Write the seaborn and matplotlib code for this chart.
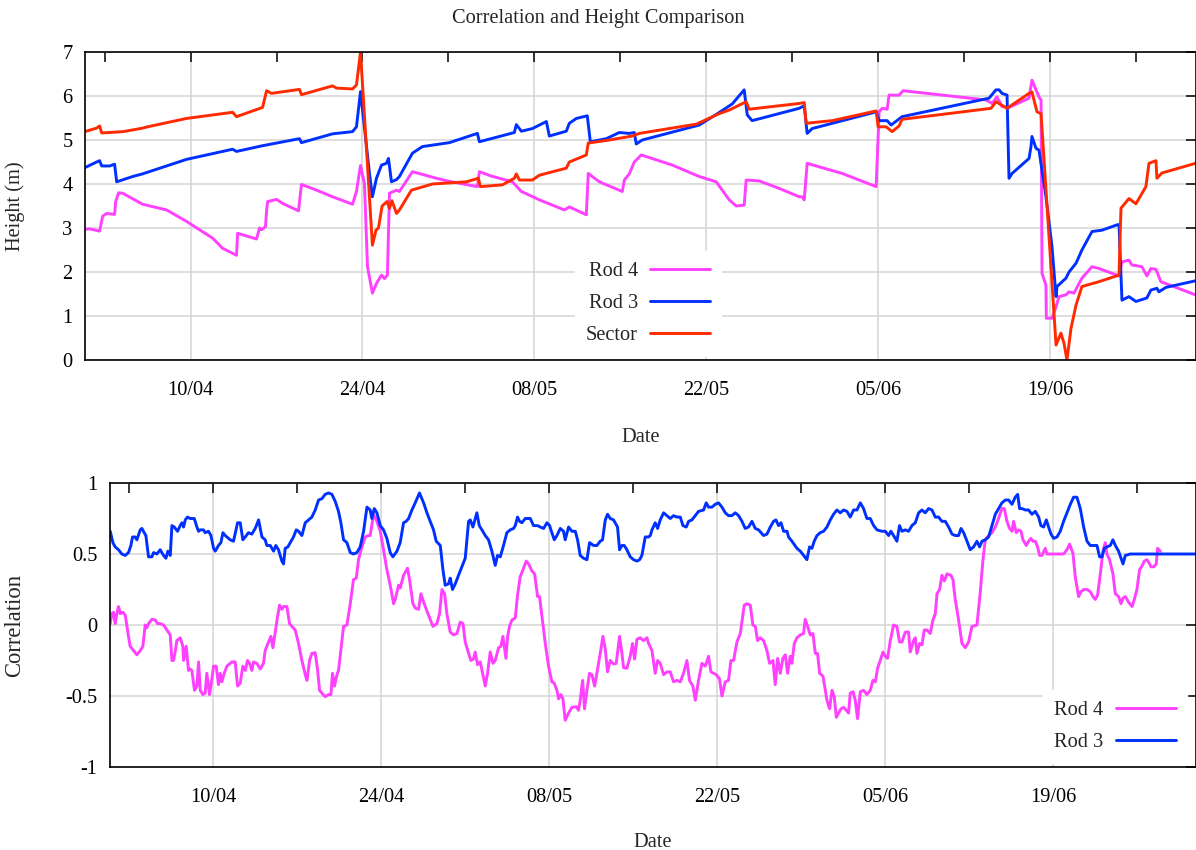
import numpy as np
import pandas as pd
import matplotlib
matplotlib.use("Agg")
import matplotlib.pyplot as plt
import matplotlib.dates as mdates
from matplotlib.ticker import FixedLocator, FixedFormatter
import seaborn as sns

# ---------------- data ----------------
START = pd.Timestamp("2013-04-01")  # day 0 of the series (days are offsets from it)
X_RANGE_DAYS = (0.40, 90.85)

SERIES_ORDER_TOP = ["Rod 4", "Rod 3", "Sector"]
SERIES_ORDER_BOTTOM = ["Rod 4", "Rod 3"]
COLORS = {"Rod 4": "#ff40ff", "Rod 3": "#0030ff", "Sector": "#ff2a00"}

major_tick_dates = ["2013-04-10", "2013-04-24", "2013-05-08", "2013-05-22", "2013-06-05", "2013-06-19"]
minor_tick_dates = ["2013-04-03", "2013-04-17", "2013-05-01", "2013-05-15", "2013-05-29", "2013-06-12", "2013-06-26"]
height_ticks = [0, 1, 2, 3, 4, 5, 6, 7]
corr_ticks = [-1, -0.5, 0, 0.5, 1]
corr_tick_labels = ["-1", "-0.5", "0", "0.5", "1"]

# Height (m) – Sector
sector_day = [0.37,1.35,1.59,1.76,3.5,5.09,5.5,8.67,12.42,12.74,14.86,15.19,15.59,17.87,18.03,20.56,20.88,22.19,22.51,22.84,
              23.81,24.1,24.3,24.6,25.0,25.2,25.4,25.77,26.01,26.99,28.70,31.46,32.44,32.60,34.39,35.37,35.53,35.78,36.84,37.41,
              39.60,39.85,41.23,41.39,43.10,44.98,45.55,50.19,52.06,52.87,54.25,54.50,58.57,58.98,59.14,61.26,64.84,65.00,65.65,66.14,
              66.71,66.95,74.20,74.60,75.50,77.29,77.53,77.94,78.27,79.49,79.89,80.14,80.38,80.71,81.12,81.60,82.99,84.62,84.78,85.43,
              86.00,86.81,87.06,87.63,87.71,88.11,90.85]
sector_val = [5.19,5.27,5.32,5.16,5.19,5.27,5.30,5.49,5.63,5.53,5.74,6.12,6.06,6.15,6.03,6.23,6.18,6.16,6.25,7.0,
              2.61,2.95,3.0,3.5,3.6,3.45,3.62,3.33,3.41,3.86,4.0,4.05,4.13,3.94,3.98,4.13,4.23,4.09,4.09,4.2,
              4.36,4.5,4.66,4.93,5.0,5.09,5.15,5.36,5.6,5.68,5.87,5.7,5.83,5.85,5.38,5.44,5.66,5.3,5.3,5.19,
              5.32,5.47,5.72,5.87,5.72,6.06,6.09,5.64,5.6,0.34,0.61,0.38,0.0,0.72,1.25,1.67,1.78,1.93,3.45,3.67,
              3.55,3.94,4.47,4.53,4.13,4.25,4.47]

# Height (m) – Rod 3
rod3_h_day = [0.37,1.35,1.59,1.76,2.41,2.81,2.98,4.28,5.09,8.67,12.42,12.74,14.86,17.87,18.03,20.56,22.19,22.51,22.84,23.57,
              23.81,24.14,24.55,24.95,25.12,25.36,25.77,26.01,27.07,27.88,30.08,32.36,32.52,35.37,35.53,35.94,36.84,37.98,38.22,39.60,
              39.85,40.42,41.31,41.56,42.86,43.92,44.73,45.14,45.30,45.79,50.43,51.81,53.12,54.09,54.34,54.74,58.57,58.98,59.22,59.63,
              64.84,65.08,65.73,66.06,66.95,74.03,74.60,74.85,75.09,75.50,75.66,75.91,77.29,77.45,77.53,77.86,78.10,78.67,79.16,79.49,
              79.57,80.30,80.55,81.12,81.60,82.42,83.23,84.45,84.62,84.86,85.43,86.00,86.89,87.22,87.71,87.87,88.44,90.85]
rod3_h_val = [4.37,4.50,4.53,4.41,4.41,4.45,4.05,4.17,4.23,4.56,4.79,4.74,4.87,5.03,4.94,5.14,5.19,5.30,6.10,4.24,
              3.71,4.13,4.43,4.47,4.58,4.05,4.10,4.17,4.70,4.85,4.94,5.15,4.96,5.17,5.35,5.20,5.26,5.42,5.09,5.20,
              5.38,5.49,5.55,4.96,5.03,5.17,5.15,5.17,4.91,5.00,5.34,5.58,5.82,6.14,5.57,5.44,5.72,5.78,5.15,5.26,
              5.64,5.44,5.44,5.34,5.53,5.95,6.14,6.14,6.06,6.02,4.13,4.24,4.58,4.85,5.08,4.81,4.77,3.71,2.58,1.44,
              1.67,1.86,2.00,2.20,2.50,2.92,2.95,3.07,3.08,1.36,1.44,1.33,1.41,1.59,1.63,1.55,1.65,1.80]

# Height (m) – Rod 4
rod4_h_day = [0.37,0.78,1.59,1.84,2.16,2.81,2.90,3.14,3.47,5.09,7.05,8.67,10.79,11.60,12.74,12.83,14.37,14.62,14.78,15.10,
              15.19,15.27,16.00,16.49,17.79,18.03,19.26,20.56,22.19,22.51,22.84,23.16,23.41,23.81,24.14,24.55,24.79,25.03,25.20,25.77,
              26.01,27.07,29.02,30.08,32.36,32.52,33.50,35.21,35.94,37.41,39.44,39.85,41.23,41.39,42.29,44.16,44.33,44.73,45.14,45.71,
              48.23,50.43,51.81,52.87,53.44,54.09,54.25,55.31,56.94,58.57,58.81,58.98,59.22,60.20,62.07,64.84,65.08,65.33,65.73,65.89,
              66.71,67.03,73.79,74.28,74.68,75.09,75.66,77.29,77.53,77.86,78.10,78.27,78.35,78.67,78.70,79.16,79.49,79.73,80.30,80.55,
              80.95,81.60,82.42,82.99,84.62,84.86,85.43,85.67,86.49,86.89,87.22,87.63,88.03,90.85]
rod4_h_val = [2.97,2.98,2.93,3.27,3.33,3.31,3.60,3.80,3.79,3.54,3.41,3.15,2.77,2.54,2.38,2.88,2.75,3.00,2.96,3.03,
              3.39,3.60,3.65,3.56,3.39,3.99,3.86,3.71,3.54,3.83,4.42,4.01,2.12,1.52,1.74,1.93,1.85,1.93,3.79,3.86,
              3.83,4.28,4.13,4.06,3.94,4.28,4.18,4.05,3.83,3.64,3.41,3.48,3.30,4.24,4.05,3.83,4.09,4.23,4.50,4.66,
              4.43,4.17,4.05,3.64,3.50,3.52,4.09,4.07,3.90,3.71,3.71,3.64,4.47,4.39,4.24,3.94,5.64,5.72,5.70,6.02,
              6.02,6.12,5.91,5.83,5.98,5.76,5.74,5.95,6.36,6.14,5.98,5.91,1.97,1.70,0.95,0.95,1.21,1.44,1.48,1.55,
              1.52,1.86,2.12,2.08,1.91,2.23,2.27,2.16,2.12,1.91,2.08,2.06,1.78,1.48]

# Correlation – Rod 3, (day, r)
rod3_corr = [
    (0.42,0.66),(0.64,0.58),(0.83,0.55),(1.11,0.53),(1.39,0.50),(1.67,0.49),(1.94,0.51),(2.14,0.56),(2.28,0.62),(2.50,0.62),
    (2.64,0.60),(2.92,0.67),(3.06,0.68),(3.25,0.65),(3.39,0.63),(3.61,0.48),(3.89,0.48),(4.03,0.51),(4.31,0.50),(4.58,0.53),
    (4.86,0.49),(5.06,0.47),(5.22,0.52),(5.42,0.49),(5.56,0.70),(5.75,0.69),(6.03,0.66),(6.25,0.70),(6.39,0.72),(6.53,0.69),
    (6.67,0.74),(6.86,0.76),(7.08,0.75),(7.42,0.75),(7.64,0.69),(7.78,0.66),(7.92,0.67),(8.19,0.67),(8.33,0.65),(8.61,0.66),
    (8.81,0.63),(9.03,0.54),(9.17,0.52),(9.44,0.56),(9.64,0.58),(9.81,0.65),(10.0,0.63),(10.42,0.60),(10.69,0.59),(11.03,0.72),
    (11.25,0.72),(11.47,0.60),(11.67,0.62),(11.94,0.65),(12.22,0.64),(12.5,0.68),(12.78,0.74),(13.06,0.62),(13.33,0.60),(13.47,0.56),
    (13.75,0.56),(14.03,0.52),(14.22,0.56),(14.44,0.53),(14.72,0.45),(14.86,0.43),(15.0,0.54),(15.22,0.55),(15.42,0.58),(15.69,0.62),
    (15.92,0.67),(16.11,0.66),(16.39,0.63),(16.67,0.72),(16.94,0.74),(17.22,0.76),(17.5,0.81),(17.78,0.88),(18.06,0.89),(18.33,0.92),
    (18.61,0.93),(18.89,0.92),(19.17,0.87),(19.44,0.80),(19.64,0.72),(19.86,0.60),(20.14,0.58),(20.42,0.51),(20.69,0.50),(20.97,0.51),
    (21.25,0.55),(21.53,0.66),(21.81,0.83),(22.08,0.81),(22.22,0.75),(22.42,0.82),(22.64,0.79),(22.92,0.70),(23.19,0.67),(23.47,0.61),
    (23.75,0.51),(23.97,0.48),(24.31,0.52),(24.58,0.58),(24.86,0.72),(25.08,0.73),(25.28,0.75),(25.56,0.81),(25.83,0.86),(26.19,0.93),
    (26.53,0.86),(26.81,0.79),(27.08,0.73),(27.36,0.67),(27.58,0.59),(27.92,0.56),(28.14,0.39),(28.33,0.28),(28.61,0.29),(28.75,0.33),
    (28.94,0.25),(29.17,0.29),(29.44,0.35),(29.72,0.41),(30.0,0.47),(30.28,0.73),(30.42,0.74),(30.64,0.69),(30.97,0.79),(31.17,0.70),
    (31.39,0.67),(31.67,0.63),(31.94,0.60),(32.22,0.52),(32.5,0.42),(32.69,0.49),(32.92,0.48),(33.19,0.56),(33.47,0.65),(33.75,0.67),
    (34.03,0.68),(34.17,0.70),(34.36,0.76),(34.53,0.73),(34.72,0.72),(35.0,0.75),(35.42,0.75),(35.69,0.70),(36.03,0.70),(36.25,0.69),
    (36.53,0.68),(36.81,0.72),(37.03,0.70),(37.22,0.65),(37.42,0.60),(37.64,0.63),(37.92,0.68),(38.19,0.66),(38.33,0.60),(38.61,0.69),
    (38.89,0.66),(39.17,0.66),(39.36,0.60),(39.58,0.49),(39.86,0.47),(40.14,0.46),(40.36,0.58),(40.69,0.56),(40.97,0.56),(41.25,0.59),
    (41.44,0.60),(41.67,0.74),(41.86,0.78),(42.08,0.75),(42.36,0.74),(42.69,0.69),(42.86,0.53),(43.06,0.56),(43.25,0.56),(43.47,0.53),
    (43.75,0.48),(44.03,0.46),(44.31,0.45),(44.53,0.46),(44.72,0.49),(45.0,0.62),(45.28,0.62),(45.42,0.63),(45.56,0.67),(45.83,0.72),
    (46.03,0.68),(46.25,0.74),(46.53,0.79),(46.81,0.77),(47.08,0.75),(47.36,0.77),(47.64,0.76),(47.92,0.76),(48.14,0.70),(48.42,0.69),
    (48.61,0.73),(48.89,0.74),(49.17,0.77),(49.44,0.80),(49.86,0.81),(50.08,0.86),(50.28,0.83),(50.56,0.83),(50.83,0.85),(51.11,0.86),
    (51.39,0.83),(51.67,0.79),(51.94,0.77),(52.22,0.77),(52.5,0.79),(52.78,0.77),(53.06,0.73),(53.33,0.68),(53.61,0.69),(53.89,0.73),
    (54.17,0.68),(54.44,0.67),(54.86,0.63),(55.14,0.64),(55.42,0.69),(55.69,0.73),(55.89,0.74),(56.11,0.70),(56.31,0.72),(56.53,0.66),
    (56.81,0.66),(56.94,0.62),(57.22,0.59),(57.64,0.54),(57.92,0.52),(58.19,0.49),(58.47,0.46),(58.69,0.55),(58.89,0.54),(59.08,0.59),
    (59.31,0.63),(59.58,0.65),(59.86,0.66),(60.14,0.69),(60.42,0.74),(60.69,0.78),(60.97,0.81),(61.25,0.79),(61.53,0.81),(61.81,0.80),
    (62.08,0.76),(62.36,0.81),(62.64,0.81),(62.92,0.86),(63.19,0.82),(63.47,0.75),(63.75,0.75),(64.03,0.70),(64.31,0.67),(64.72,0.66),
    (65.0,0.66),(65.28,0.63),(65.47,0.66),(65.69,0.63),(65.97,0.59),(66.19,0.70),(66.39,0.66),(66.67,0.67),(66.94,0.66),(67.22,0.70),
    (67.5,0.72),(67.78,0.79),(68.06,0.81),(68.33,0.79),(68.61,0.82),(68.89,0.81),(69.17,0.76),(69.44,0.76),(69.72,0.73),(70.0,0.73),
    (70.28,0.69),(70.56,0.64),(70.83,0.63),(71.11,0.63),(71.31,0.68),(71.53,0.65),(71.81,0.59),(72.08,0.53),(72.36,0.55),(72.64,0.59),
    (72.86,0.55),(73.06,0.59),(73.33,0.60),(73.61,0.62),(73.89,0.70),(74.17,0.78),(74.44,0.82),(74.72,0.86),(75.0,0.88),(75.28,0.88),
    (75.56,0.85),(75.83,0.90),(76.03,0.92),(76.19,0.82),(76.39,0.82),(76.67,0.81),(76.94,0.81),(77.22,0.78),(77.5,0.80),(77.78,0.76),
    (77.97,0.70),(78.19,0.69),(78.42,0.74),(78.61,0.69),(78.81,0.64),(79.03,0.61),(79.31,0.62),(79.58,0.66),(79.86,0.73),(80.14,0.79),
    (80.42,0.85),(80.69,0.90),(80.97,0.90),(81.25,0.82),(81.53,0.69),(81.81,0.59),(82.08,0.56),(82.36,0.56),(82.64,0.56),(82.86,0.48),
    (83.06,0.48),(83.25,0.54),(83.47,0.55),(83.75,0.56),(83.97,0.60),(84.17,0.56),(84.44,0.52),(84.81,0.43),(85.0,0.49),(85.42,0.50),
    (90.85,0.50),
]

# Correlation – Rod 4, (day, r)
rod4_corr = [
    (0.42,0.01),(0.56,0.08),(0.69,0.09),(0.83,0.01),(0.97,0.08),(1.11,0.13),(1.25,0.08),(1.47,0.09),(1.67,0.07),(1.94,-0.08),
    (2.08,-0.15),(2.36,-0.18),(2.64,-0.21),(2.92,-0.18),(3.14,-0.15),(3.33,0.0),(3.47,-0.02),(3.61,0.01),(3.89,0.04),(4.17,0.035),
    (4.36,0.01),(4.58,0.01),(4.86,0.0),(5.14,-0.035),(5.42,-0.07),(5.56,-0.25),(5.69,-0.25),(5.83,-0.19),(5.97,-0.11),(6.25,-0.09),
    (6.47,-0.15),(6.53,-0.25),(6.75,-0.15),(6.94,-0.32),(7.08,-0.31),(7.22,-0.32),(7.44,-0.46),(7.64,-0.43),(7.78,-0.26),(7.92,-0.46),
    (8.14,-0.49),(8.33,-0.48),(8.47,-0.34),(8.69,-0.49),(8.89,-0.38),(9.03,-0.29),(9.25,-0.29),(9.44,-0.42),(9.58,-0.34),(9.72,-0.40),
    (9.92,-0.34),(10.14,-0.29),(10.56,-0.26),(10.83,-0.26),(11.03,-0.43),(11.25,-0.41),(11.47,-0.29),(11.67,-0.32),(11.86,-0.25),(12.03,-0.27),
    (12.22,-0.32),(12.36,-0.26),(12.64,-0.27),(12.92,-0.31),(13.19,-0.27),(13.33,-0.18),(13.61,-0.12),(13.81,-0.08),(13.97,-0.16),(14.17,-0.05),
    (14.36,0.06),(14.53,0.14),(14.72,0.11),(14.86,0.13),(15.14,0.13),(15.36,0.01),(15.56,-0.01),(15.83,-0.035),(16.11,-0.13),(16.39,-0.25),
    (16.67,-0.35),(16.81,-0.39),(17.03,-0.25),(17.22,-0.20),(17.5,-0.195),(17.69,-0.31),(17.86,-0.46),(18.06,-0.48),(18.33,-0.505),(18.61,-0.49),
    (18.81,-0.49),(18.94,-0.34),(19.11,-0.43),(19.31,-0.35),(19.44,-0.32),(19.58,-0.22),(19.86,-0.01),(20.14,0.0),(20.42,0.15),(20.69,0.32),
    (20.92,0.33),(21.11,0.46),(21.39,0.55),(21.67,0.62),(21.94,0.63),(22.08,0.63),(22.36,0.78),(22.64,0.73),(22.92,0.66),(23.19,0.53),
    (23.47,0.39),(23.75,0.28),(24.03,0.15),(24.17,0.18),(24.44,0.28),(24.58,0.26),(24.86,0.35),(25.19,0.40),(25.36,0.32),(25.64,0.15),
    (25.83,0.12),(26.11,0.11),(26.31,0.22),(26.58,0.15),(26.94,0.07),(27.31,-0.01),(27.64,0.01),(27.86,0.08),(28.06,0.25),(28.28,0.22),
    (28.47,0.08),(28.75,-0.05),(29.03,-0.07),(29.31,-0.06),(29.58,0.02),(29.81,0.01),(30.0,-0.12),(30.28,-0.20),(30.47,-0.25),(30.69,-0.24),
    (30.83,-0.19),(31.03,-0.28),(31.25,-0.26),(31.47,-0.35),(31.67,-0.43),(31.86,-0.34),(32.08,-0.19),(32.31,-0.27),(32.5,-0.25),(32.78,-0.16),
    (32.97,-0.15),(33.14,-0.08),(33.39,-0.235),(33.53,-0.08),(33.69,-0.01),(33.89,0.035),(34.17,0.05),(34.36,0.21),(34.58,0.34),(34.86,0.40),
    (35.08,0.45),(35.28,0.43),(35.56,0.38),(35.78,0.36),(36.03,0.20),(36.19,0.20),(36.39,0.06),(36.67,-0.13),(36.94,-0.29),(37.22,-0.40),
    (37.42,-0.41),(37.64,-0.46),(37.78,-0.52),(37.97,-0.49),(38.14,-0.52),(38.33,-0.67),(38.61,-0.62),(38.89,-0.58),(39.25,-0.575),(39.44,-0.60),
    (39.58,-0.53),(39.78,-0.39),(39.94,-0.59),(40.14,-0.46),(40.36,-0.34),(40.56,-0.35),(40.78,-0.43),(40.97,-0.34),(41.25,-0.20),(41.47,-0.08),
    (41.67,-0.17),(41.86,-0.33),(42.08,-0.25),(42.36,-0.275),(42.58,-0.27),(42.86,-0.08),(43.06,-0.20),(43.19,-0.30),(43.47,-0.305),(43.75,-0.22),
    (43.94,-0.13),(44.11,-0.24),(44.31,-0.10),(44.58,-0.09),(44.86,-0.11),(45.14,-0.09),(45.28,-0.13),(45.56,-0.18),(45.83,-0.34),(46.03,-0.25),
    (46.25,-0.27),(46.53,-0.35),(46.81,-0.33),(47.08,-0.33),(47.36,-0.40),(47.64,-0.39),(47.92,-0.40),(48.19,-0.34),(48.47,-0.25),(48.69,-0.39),
    (48.97,-0.43),(49.17,-0.53),(49.44,-0.39),(49.72,-0.27),(50.0,-0.29),(50.28,-0.22),(50.47,-0.33),(50.69,-0.34),(50.92,-0.35),(51.19,-0.38),
    (51.39,-0.50),(51.67,-0.40),(51.94,-0.39),(52.14,-0.25),(52.36,-0.25),(52.64,-0.12),(52.92,-0.06),(53.25,0.14),(53.47,0.15),(53.75,0.14),
    (53.97,0.0),(54.17,-0.01),(54.36,-0.11),(54.58,-0.09),(54.86,-0.11),(55.14,-0.18),(55.36,-0.27),(55.64,-0.25),(55.83,-0.42),(56.03,-0.235),
    (56.25,-0.34),(56.47,-0.235),(56.67,-0.21),(56.86,-0.34),(57.08,-0.22),(57.22,-0.27),(57.42,-0.13),(57.64,-0.09),(57.92,-0.07),(58.19,-0.06),
    (58.33,0.04),(58.53,-0.01),(58.75,-0.07),(58.97,-0.06),(59.17,-0.20),(59.36,-0.20),(59.53,-0.34),(59.81,-0.36),(60.0,-0.46),(60.14,-0.53),
    (60.36,-0.59),(60.56,-0.46),(60.75,-0.505),(60.92,-0.65),(61.11,-0.62),(61.31,-0.59),(61.53,-0.58),(61.75,-0.60),(61.94,-0.62),(62.08,-0.48),
    (62.31,-0.47),(62.5,-0.53),(62.69,-0.66),(62.92,-0.47),(63.19,-0.46),(63.47,-0.49),(63.75,-0.46),(63.97,-0.39),(64.17,-0.40),(64.36,-0.305),
    (64.58,-0.25),(64.81,-0.19),(65.0,-0.22),(65.19,-0.235),(65.42,-0.11),(65.69,0.0),(65.97,-0.01),(66.19,-0.12),(66.39,-0.12),(66.67,-0.05),
    (66.94,-0.05),(67.08,-0.19),(67.36,-0.11),(67.5,-0.09),(67.64,-0.20),(67.86,-0.13),(68.06,-0.14),(68.25,-0.035),(68.47,-0.035),(68.75,-0.06),
    (68.97,0.035),(69.17,0.08),(69.31,0.22),(69.53,0.25),(69.72,0.35),(69.92,0.31),(70.14,0.36),(70.47,0.35),(70.64,0.32),(70.83,0.18),
    (71.11,0.035),(71.39,-0.13),(71.67,-0.16),(71.94,-0.12),(72.22,-0.01),(72.64,0.0),(72.92,0.235),(73.14,0.46),(73.33,0.60),(73.61,0.63),
    (73.89,0.65),(74.17,0.69),(74.44,0.75),(74.72,0.82),(74.92,0.82),(75.14,0.73),(75.36,0.68),(75.56,0.66),(75.69,0.73),(75.92,0.65),
    (76.11,0.67),(76.31,0.66),(76.47,0.60),(76.75,0.56),(76.94,0.59),(77.14,0.61),(77.31,0.59),(77.5,0.59),(77.69,0.55),(77.86,0.49),
    (78.06,0.49),(78.33,0.54),(78.47,0.50),(79.86,0.50),(80.14,0.53),(80.36,0.57),(80.64,0.505),(80.83,0.34),(81.11,0.20),(81.31,0.235),
    (81.53,0.25),(81.81,0.25),(82.08,0.235),(82.31,0.20),(82.5,0.18),(82.69,0.21),(82.92,0.36),(83.14,0.52),(83.33,0.58),(83.47,0.50),
    (83.69,0.46),(83.97,0.36),(84.17,0.22),(84.44,0.20),(84.64,0.15),(84.81,0.19),(85.0,0.20),(85.28,0.16),(85.56,0.13),(85.75,0.18),
    (85.97,0.25),(86.19,0.39),(86.39,0.415),(86.58,0.45),(86.81,0.46),(87.03,0.43),(87.14,0.41),(87.36,0.41),(87.58,0.43),(87.69,0.54),
    (87.92,0.52),
]


def to_dates(days):
    return START + pd.to_timedelta(np.asarray(days, dtype=float), unit="D")


def frame(name, days, vals):
    return pd.DataFrame({"date": to_dates(days), "value": vals, "series": name})


height_df = pd.concat([
    frame("Rod 4", rod4_h_day, rod4_h_val),
    frame("Rod 3", rod3_h_day, rod3_h_val),
    frame("Sector", sector_day, sector_val),
], ignore_index=True)

corr_df = pd.concat([
    frame("Rod 4", [d for d, _ in rod4_corr], [v for _, v in rod4_corr]),
    frame("Rod 3", [d for d, _ in rod3_corr], [v for _, v in rod3_corr]),
], ignore_index=True)

# ---------------- style ----------------
FS = 14.7
sns.set_style("white")
plt.rcParams["font.family"] = ["Liberation Serif", "DejaVu Serif"]
plt.rcParams["font.size"] = FS
plt.rcParams["axes.linewidth"] = 1.2

W, H = 1196, 850
fig = plt.figure(figsize=(W / 100, H / 100), dpi=100)
ax1 = fig.add_axes([85 / W, 1 - 360 / H, (1195.5 - 85) / W, 308 / H])
ax2 = fig.add_axes([110 / W, 1 - 767 / H, (1195.5 - 110) / W, 284 / H])

LW = 2.1
sns.lineplot(data=height_df, x="date", y="value", hue="series", hue_order=SERIES_ORDER_TOP,
             palette=COLORS, estimator=None, sort=False, linewidth=LW, ax=ax1)
sns.lineplot(data=corr_df, x="date", y="value", hue="series", hue_order=SERIES_ORDER_BOTTOM,
             palette=COLORS, estimator=None, sort=False, linewidth=LW, ax=ax2)

xlim = (mdates.date2num(to_dates([X_RANGE_DAYS[0]])[0]), mdates.date2num(to_dates([X_RANGE_DAYS[1]])[0]))
major_locs = mdates.date2num(pd.to_datetime(major_tick_dates))
minor_locs = mdates.date2num(pd.to_datetime(minor_tick_dates))

for ax in (ax1, ax2):
    ax.set_xlim(*xlim)
    ax.xaxis.set_major_locator(FixedLocator(major_locs))
    ax.xaxis.set_minor_locator(FixedLocator(minor_locs))
    ax.xaxis.set_major_formatter(mdates.DateFormatter("%d/%m"))
    ax.tick_params(which="both", direction="in", top=True, right=True, length=7, width=1.1, colors="black",
                   labelsize=FS)
    ax.tick_params(axis="x", which="both", pad=15)
    ax.tick_params(axis="y", which="both", pad=9)
    ax.grid(True, which="major", color="#d4d4d4", linewidth=1.1)
    ax.set_axisbelow(True)
    for s in ax.spines.values():
        s.set_color("black")
        s.set_linewidth(1.2)
    ax.set_xlabel("Date", fontsize=FS)

ax1.set_ylim(0, 7)
ax1.yaxis.set_major_locator(FixedLocator(height_ticks))
ax1.yaxis.set_major_formatter(FixedFormatter([str(t) for t in height_ticks]))
ax1.set_ylabel("Height (m)", fontsize=FS)
ax1.yaxis.set_label_coords(-0.054, 0.5)
ax1.xaxis.set_label_coords(0.5, -0.221)

ax2.set_ylim(-1, 1)
ax2.yaxis.set_major_locator(FixedLocator(corr_ticks))
ax2.yaxis.set_major_formatter(FixedFormatter(corr_tick_labels))
ax2.set_ylabel("Correlation", fontsize=16.3)
ax2.yaxis.set_label_coords(-0.078, 0.5)
ax2.xaxis.set_label_coords(0.5, -0.232)

leg_kw = dict(loc="center", frameon=True, facecolor="white", edgecolor="white", framealpha=1.0,
              fancybox=False, markerfirst=False, handlelength=2.95, handletextpad=0.6,
              labelspacing=0.61, borderpad=0.55, fontsize=FS)
h, l = ax1.get_legend_handles_labels()
ax1.legend(h, l, bbox_to_anchor=(0.507, 0.1835), **leg_kw)
h, l = ax2.get_legend_handles_labels()
ax2.legend(h, l, bbox_to_anchor=(0.926, 0.142), **leg_kw)

fig.text(0.5, 1 - 19 / H, "Correlation and Height Comparison", ha="center", va="center", fontsize=FS)

fig.savefig("out.png", dpi=100)
